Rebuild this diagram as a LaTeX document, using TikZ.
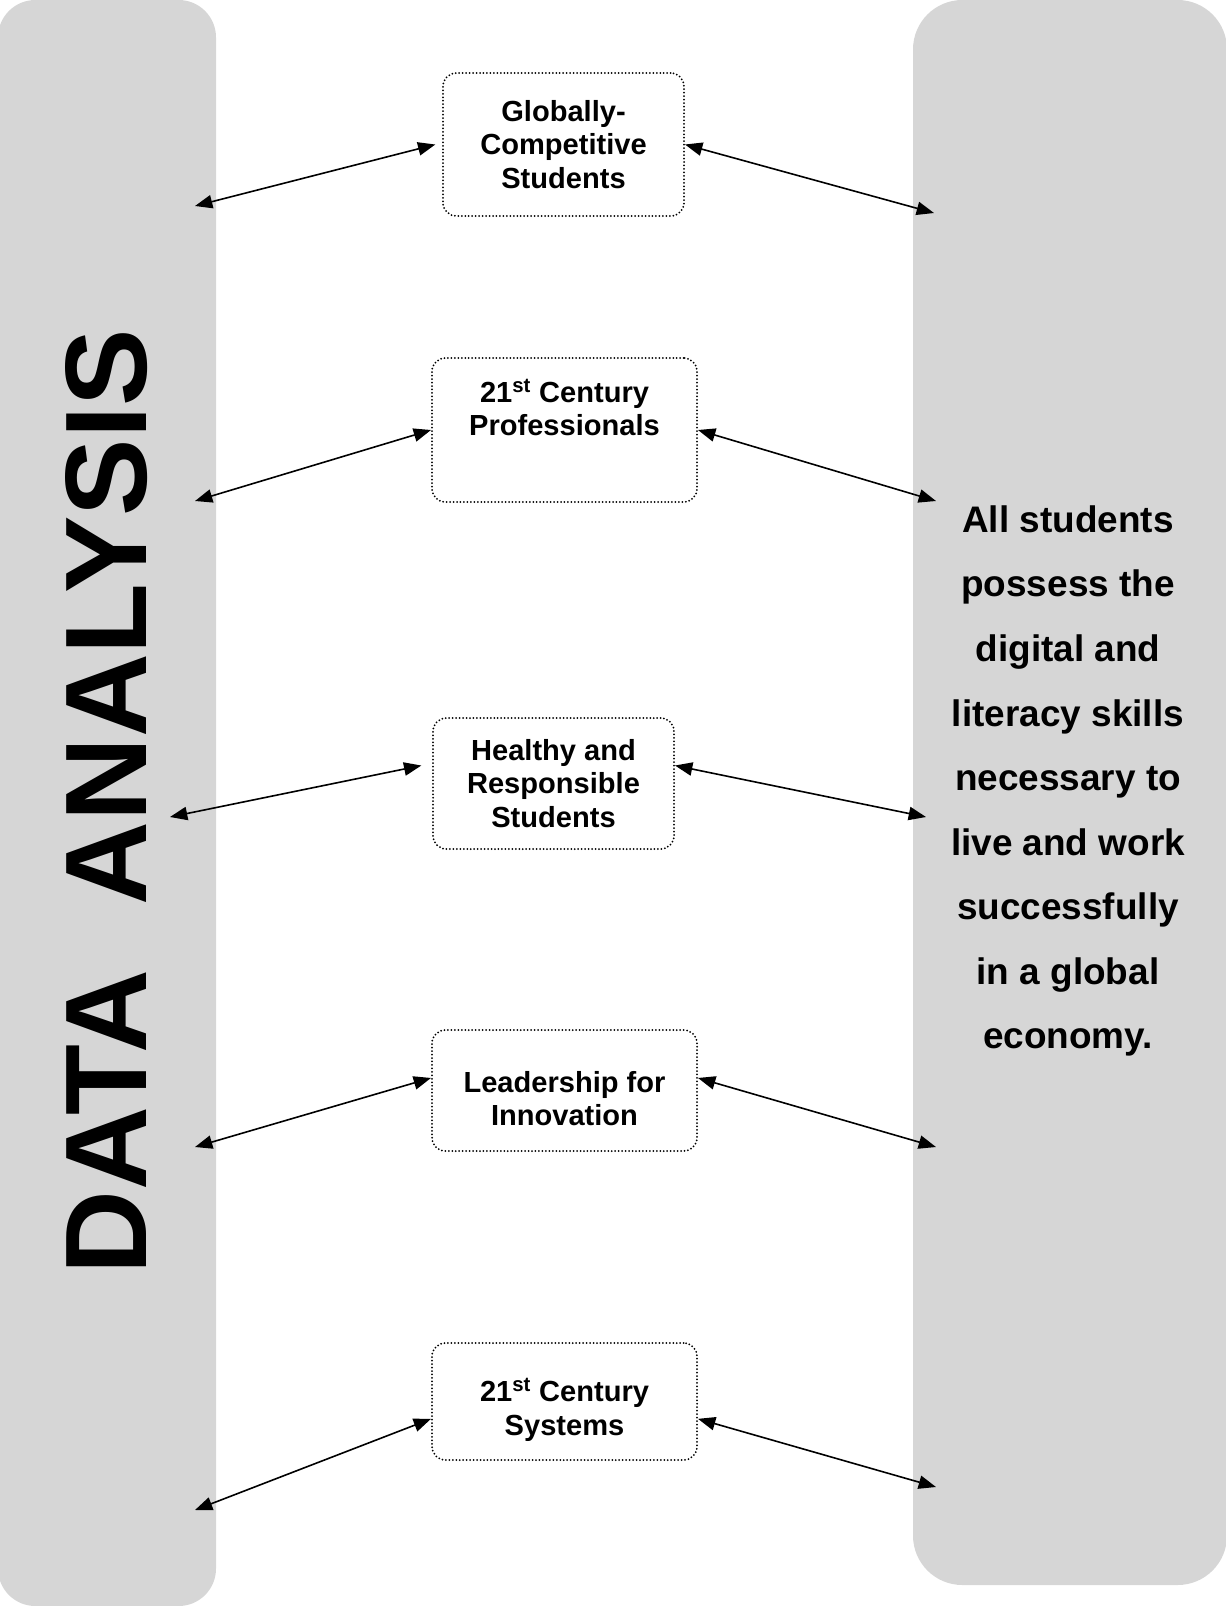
\documentclass[tikz,border=0pt]{standalone}
\usepackage{fontspec}
\setmainfont{Liberation Sans}
\usetikzlibrary{arrows.meta}
\definecolor{bargray}{RGB}{214,214,214}
\tikzset{
  bar/.style={fill=bargray},
  goalbox/.style={draw, line width=1.5pt, dash pattern=on 0pt off 2.6pt, line cap=round,
    rounded corners=10pt, inner sep=0pt, align=center,
    font=\fontsize{21.8}{25}\selectfont\bfseries},
  link/.style={<->, line width=1.2pt},
}
\begin{document}
\begin{tikzpicture}[x=0.75pt,y=-0.75pt,>={Triangle[length=13pt,width=10pt]}]
    \useasboundingbox (0,0) rectangle (1225,1606);
    %Side bars
    \fill[bar, rounded corners=28pt] (-2,0) rectangle (216,1606);
    \fill[bar, rounded corners=37pt] (913,0) rectangle (1227,1585);
    %Data analysis
    \node[rotate=90, inner sep=0pt, font=\fontsize{87}{90}\selectfont\bfseries] (data) at (107,802) {DATA\ \ ANALYSIS};
    %Goal text
    \node[align=center, inner sep=0pt, font=\fontsize{27.7}{48.4}\selectfont\bfseries] (goal) at (1068,781)
      {All students\\possess the\\digital and\\literacy skills\\necessary to\\live and work\\successfully\\in a global\\economy.};
    %Boxes
    \node[goalbox, minimum width=180.75pt, minimum height=107.25pt] (globally) at (563.5,144.5) {Globally-\\Competitive\\Students};
    \node[goalbox, minimum width=198.75pt, minimum height=108pt] (profs) at (564.5,430) {21\textsuperscript{st} Century\\Professionals\\[9pt]\mbox{}};
    \node[goalbox, minimum width=180.75pt, minimum height=98.25pt] (healthy) at (553.5,783.5) {Healthy and\\Responsible\\Students};
    \node[goalbox, minimum width=198.75pt, minimum height=90.75pt] (leader) at (564.5,1090.5) {\rule{0pt}{28pt}Leadership for\\Innovation};
    \node[goalbox, minimum width=198.75pt, minimum height=87.75pt] (systems) at (564.5,1401.5) {\rule{0pt}{30pt}21\textsuperscript{st} Century\\Systems};
    %Free ends on the bars
    \coordinate (gl) at (195,206);  \coordinate (gr) at (934,213);
    \coordinate (pl) at (195,501);  \coordinate (pr) at (936,501);
    \coordinate (hl) at (170,817);  \coordinate (hr) at (926,817);
    \coordinate (ll) at (195,1147); \coordinate (lr) at (936,1147);
    \coordinate (sl) at (195,1510); \coordinate (sr) at (936,1487);
    %Links
    \draw[link] (gl) -- ([xshift=-5pt]globally.west);
    \draw[link] (globally.east) -- (gr);
    \draw[link] (pl) -- (profs.west);
    \draw[link] (profs.east) -- (pr);
    \draw[link] (hl) -- ([xshift=-8pt,yshift=13.5pt]healthy.west);
    \draw[link] ([yshift=13.5pt]healthy.east) -- (hr);
    \draw[link] (ll) -- ([yshift=9.4pt]leader.west);
    \draw[link] ([yshift=9.4pt]leader.east) -- (lr);
    \draw[link] (sl) -- ([yshift=-13pt]systems.west);
    \draw[link] ([yshift=-13pt]systems.east) -- (sr);
\end{tikzpicture}
\end{document}
